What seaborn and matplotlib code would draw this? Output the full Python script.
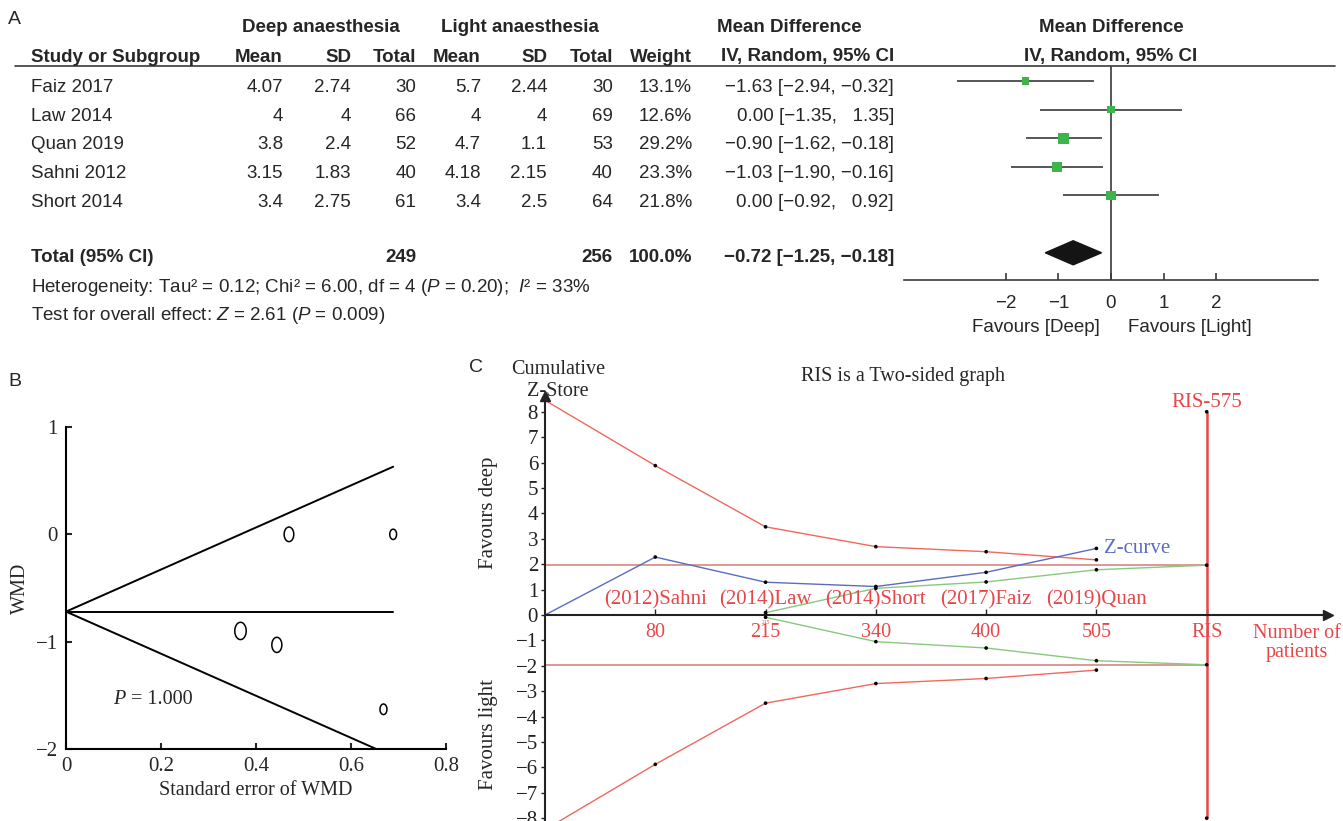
import numpy as np
import seaborn as sns
import matplotlib.pyplot as plt
from matplotlib.path import Path

W, H = 1343, 821

# ---------------- panel A: forest plot data ----------------
studies = ['Faiz 2017', 'Law 2014', 'Quan 2019', 'Sahni 2012', 'Short 2014']
deep_mean = [4.07, 4, 3.8, 3.15, 3.4]
deep_sd = [2.74, 4, 2.4, 1.83, 2.75]
deep_n = [30, 66, 52, 40, 61]
light_mean = [5.7, 4, 4.7, 4.18, 3.4]
light_sd = [2.44, 4, 1.1, 2.15, 2.5]
light_n = [30, 69, 53, 40, 64]
weight = [13.1, 12.6, 29.2, 23.3, 21.8]
md = [-1.63, 0.00, -0.90, -1.03, 0.00]
ci_lo = [-2.94, -1.35, -1.62, -1.90, -0.92]
ci_hi = [-0.32, 1.35, -0.18, -0.16, 0.92]
total_md, total_lo, total_hi = -0.72, -1.25, -0.18
total_deep, total_light = 249, 256
forest_ticks = [-2, -1, 0, 1, 2]

# ---------------- panel C: trial sequential analysis ----------------
tsa_ticklabels = ['', '80', '215', '340', '400', '505', 'RIS']
tsa_studies = ['(2012)Sahni', '(2014)Law', '(2014)Short', '(2017)Faiz', '(2019)Quan']
z_curve = [0, 2.28, 1.29, 1.12, 1.68, 2.62]
upper_bound = [8.45, 5.88, 3.47, 2.69, 2.49, 2.17]
lower_bound = [-8.45, -5.88, -3.47, -2.70, -2.50, -2.17]
futility_up = [0.09, 1.05, 1.30, 1.78, 1.96]
futility_low = [-0.09, -1.05, -1.30, -1.80, -1.96]
conventional = 1.96
ris_top = 8

GREEN = '#3cb54a'
RED_TXT = '#e8474a'
RED_LINE = '#f0685e'
BLUE = '#5b6cc0'
GREEN_LINE = '#88c97c'
PINK = '#d6877f'
DARK = '#3a3a3a'

sns.set_theme(style='white')
plt.rcParams['font.family'] = ['Liberation Sans', 'DejaVu Sans']
plt.rcParams['mathtext.fontset'] = 'custom'
plt.rcParams['mathtext.rm'] = 'Liberation Sans'
plt.rcParams['mathtext.it'] = 'Liberation Sans:italic'
plt.rcParams['mathtext.bf'] = 'Liberation Sans:bold'
SERIF = ['Liberation Serif', 'DejaVu Serif']
FS = 13.5


def px_rect(x0, y0, x1, y1):
    return [x0 / W, 1 - y1 / H, (x1 - x0) / W, (y1 - y0) / H]


def num(v):
    s = f'{abs(v):.2f}'
    return '\u2212' + s if v < 0 else s


def ci_text(m, lo, hi):
    hi_s = num(hi) if hi < 0 else '  ' + num(hi)
    return f'{num(m)} [{num(lo)}, {hi_s}]'


fig = plt.figure(figsize=(W / 100, H / 100), dpi=100)

############ PANEL A: FOREST PLOT ############
axf = fig.add_axes(px_rect(904, 66, 1318, 280))
rows = np.arange(len(studies))
axf.hlines(rows, ci_lo, ci_hi, color=DARK, lw=1.2)
sns.scatterplot(x=md, y=rows, size=weight, sizes=(min(weight) * 2.1, max(weight) * 2.1),
                marker='s', color=GREEN, edgecolor='none', legend=False, ax=axf, zorder=3)
drow = len(studies) + 1
axf.fill([total_lo, total_md, total_hi, total_md], [drow, drow - 0.42, drow, drow + 0.42],
         color='#141414', zorder=3)
axf.axvline(0, color=DARK, lw=1.2)
axf.set_xlim(-3.94, 3.94)
axf.set_ylim(6.95, -0.52)
axf.set_xticks(forest_ticks)
axf.set_yticks([])
axf.set_xlabel('')
axf.set_ylabel('')
for s in ['top', 'left', 'right']:
    axf.spines[s].set_visible(False)
axf.spines['bottom'].set_color(DARK)
axf.spines['bottom'].set_linewidth(1.2)
axf.tick_params(axis='x', direction='in', length=5, width=1.2, color=DARK,
                labelsize=FS, pad=11, bottom=True)
axf.patch.set_alpha(0)

############ PANEL B: FUNNEL PLOT ############
se = [(h - l) / (2 * 1.96) for l, h in zip(ci_lo, ci_hi)]
t = np.linspace(0, 2 * np.pi, 60)
ellipse = Path(np.column_stack([0.66 * np.cos(t), np.sin(t)]))

axb = fig.add_axes(px_rect(66, 427, 446, 749))
se_line = np.array([0, max(se)])
axb.plot(se_line, total_md + 1.96 * se_line, color='black', lw=1.4)
axb.plot(se_line, total_md - 1.96 * se_line, color='black', lw=1.4)
axb.plot(se_line, [total_md, total_md], color='black', lw=1.4)
sns.scatterplot(x=se, y=md, size=weight, sizes=(55, 155), marker=ellipse,
                facecolor='none', edgecolor='black', linewidth=1.1, legend=False, ax=axb)
axb.set_xlim(0, 0.8)
axb.set_ylim(-2, 1)
axb.set_xticks([0, 0.2, 0.4, 0.6, 0.8], ['0', '0.2', '0.4', '0.6', '0.8'])
axb.set_yticks([-2, -1, 0, 1])
axb.set_xlabel('Standard error of WMD', family=SERIF, fontsize=14.5, labelpad=3)
axb.set_ylabel('WMD', family=SERIF, fontsize=14.5, labelpad=4)
for s in ['top', 'right']:
    axb.spines[s].set_visible(False)
for s in ['left', 'bottom']:
    axb.spines[s].set_linewidth(1.5)
    axb.spines[s].set_color('black')
axb.tick_params(direction='in', length=4.5, width=1.5, labelsize=15, pad=6,
                left=True, bottom=True)
for lab in axb.get_xticklabels() + axb.get_yticklabels():
    lab.set_family(SERIF)
ptxt = axb.text(0.1, -1.54, 'P', family=SERIF, style='italic', fontsize=14.5, va='center')
axb.annotate(' = 1.000', xy=(1, 0), xycoords=ptxt, va='bottom', family=SERIF, fontsize=14.5)
axb.patch.set_alpha(0)

############ PANEL C: TRIAL SEQUENTIAL ANALYSIS ############
pos = np.arange(len(tsa_ticklabels))
ris_pos = pos[-1]
axc = fig.add_axes(px_rect(545, 396, 1328, 821))
axc.hlines([conventional, -conventional], 0, ris_pos, color=PINK, lw=1.2)
sns.lineplot(x=pos[:6], y=upper_bound, color=RED_LINE, lw=1, errorbar=None, ax=axc)
sns.lineplot(x=pos[:6], y=lower_bound, color=RED_LINE, lw=1, errorbar=None, ax=axc)
sns.lineplot(x=pos[2:], y=futility_up, color=GREEN_LINE, lw=1, errorbar=None, ax=axc)
sns.lineplot(x=pos[2:], y=futility_low, color=GREEN_LINE, lw=1, errorbar=None, ax=axc)
sns.lineplot(x=pos[:6], y=z_curve, color=BLUE, lw=1, errorbar=None, ax=axc)
axc.vlines(ris_pos, -ris_top, ris_top, color=RED_TXT, lw=1.8)
dot_x = np.concatenate([pos[1:6], pos[1:6], pos[1:6], pos[2:], pos[2:], [ris_pos, ris_pos]])
dot_y = np.concatenate([upper_bound[1:], lower_bound[1:], z_curve[1:], futility_up,
                        futility_low, [ris_top, -ris_top]])
sns.scatterplot(x=dot_x, y=dot_y, color='black', s=7, edgecolor='none', ax=axc, zorder=5)

axc.set_xlim(0, 7.1)
axc.set_ylim(-8.11, 8.62)
axc.set_xticks(pos[1:], tsa_ticklabels[1:])
axc.set_yticks(range(-8, 9))
axc.set_xlabel('')
axc.set_ylabel('')
axc.spines['left'].set_position(('data', 0))
axc.spines['bottom'].set_position(('data', 0))
for s in ['top', 'right']:
    axc.spines[s].set_visible(False)
for s in ['left', 'bottom']:
    axc.spines[s].set_linewidth(1.5)
    axc.spines[s].set_color('#222222')
axc.plot(1, 0, '>', color='#222222', ms=7, transform=axc.get_yaxis_transform(), clip_on=False)
axc.plot(0, 1, '^', color='#222222', ms=7, transform=axc.get_xaxis_transform(), clip_on=False)
axc.tick_params(axis='x', direction='in', length=4, width=1, colors='#222222',
                labelcolor=RED_TXT, labelsize=14.5, pad=6, bottom=True)
axc.tick_params(axis='y', direction='out', length=3, width=1, colors='#222222',
                labelsize=15, pad=2, left=True)
for lab in axc.get_xticklabels() + axc.get_yticklabels():
    lab.set_family(SERIF)
for i, name in enumerate(tsa_studies):
    axc.text(pos[i + 1], 0.6, name, ha='center', va='center', color=RED_TXT,
             fontsize=15, family=SERIF)
axc.text(pos[5] + 0.07, z_curve[5], 'Z-curve', ha='left', va='center', color=BLUE,
         fontsize=15, family=SERIF)
axc.text(ris_pos, ris_top + 0.35, 'RIS-575', ha='center', va='center', color=RED_TXT,
         fontsize=15, family=SERIF)
axc.text(pos[2], -0.3, tsa_ticklabels[2], ha='center', va='center', color=RED_TXT,
         fontsize=4, family=SERIF)
axc.patch.set_alpha(0)

############ TEXT OVERLAY (table, titles, panel letters) ############
ov = fig.add_axes([0, 0, 1, 1])
ov.set_xlim(0, W)
ov.set_ylim(H, 0)
ov.axis('off')
ov.patch.set_alpha(0)

bold = dict(fontsize=FS, fontweight='bold', va='center')
reg = dict(fontsize=FS, va='center')

ov.text(8, 20, 'A', fontsize=14, va='center')
ov.text(8, 382, 'B', fontsize=14, va='center')
ov.text(469, 367, 'C', fontsize=14, va='center')

# table headers
ov.text(321, 28, 'Deep anaesthesia', ha='center', **bold)
ov.text(520, 28, 'Light anaesthesia', ha='center', **bold)
ov.text(717, 28, 'Mean Difference', ha='left', **bold)
ov.text(1111, 28, 'Mean Difference', ha='center', **bold)
ov.text(1111, 57, 'IV, Random, 95% CI', ha='center', **bold)
ov.text(31, 57, 'Study or Subgroup', ha='left', **bold)
col_right = [283, 351, 416, 481, 547, 613, 692, 894]
for x, lab in zip(col_right, ['Mean', 'SD', 'Total', 'Mean', 'SD', 'Total', 'Weight',
                              'IV, Random, 95% CI']):
    ov.text(x, 57, lab, ha='right', **bold)
ov.plot([15, 1335], [66, 66], color=DARK, lw=1.2)

row_y = 87.5 + 28.65 * rows
for i, y in enumerate(row_y):
    ov.text(31, y, studies[i], ha='left', **reg)
    cells = [f'{deep_mean[i]:g}', f'{deep_sd[i]:g}', f'{deep_n[i]}',
             f'{light_mean[i]:g}', f'{light_sd[i]:g}', f'{light_n[i]}',
             f'{weight[i]:.1f}%', ci_text(md[i], ci_lo[i], ci_hi[i])]
    for x, c in zip(col_right, cells):
        ov.text(x, y, c, ha='right', **reg)

ty = 257
ov.text(31, ty, 'Total (95% CI)', ha='left', **bold)
ov.text(col_right[2], ty, f'{total_deep}', ha='right', **bold)
ov.text(col_right[5], ty, f'{total_light}', ha='right', **bold)
ov.text(col_right[6], ty, f'{sum(weight):.1f}%', ha='right', **bold)
ov.text(col_right[7], ty, ci_text(total_md, total_lo, total_hi), ha='right', **bold)
ov.text(31, 287, 'Heterogeneity: Tau\u00b2 = 0.12; Chi\u00b2 = 6.00, df = 4 ($P$ = 0.20);  $I$\u00b2 = 33%',
        ha='left', **reg)
ov.text(31, 315, 'Test for overall effect: $Z$ = 2.61 ($P$ = 0.009)', ha='left', **reg)
ov.text(1036, 328, 'Favours [Deep]', ha='center', **reg)
ov.text(1190, 328, 'Favours [Light]', ha='center', **reg)

# panel C annotations
ov.text(558, 370, 'Cumulative', ha='center', va='center', fontsize=14.5, family=SERIF)
ov.text(558, 391, 'Z-Store', ha='center', va='center', fontsize=14.5, family=SERIF)
ov.text(903, 377, 'RIS is a Two-sided graph', ha='center', va='center', fontsize=14.5,
        family=SERIF)
ov.text(489, 513, 'Favours deep', ha='center', va='center', rotation=90, fontsize=15,
        family=SERIF)
ov.text(489, 734, 'Favours light', ha='center', va='center', rotation=90, fontsize=15,
        family=SERIF)
ov.text(1297, 643, 'Number of\npatients', ha='center', va='center', color=RED_TXT,
        fontsize=14.5, family=SERIF, linespacing=1.0)

fig.savefig('out.png', dpi=100)
